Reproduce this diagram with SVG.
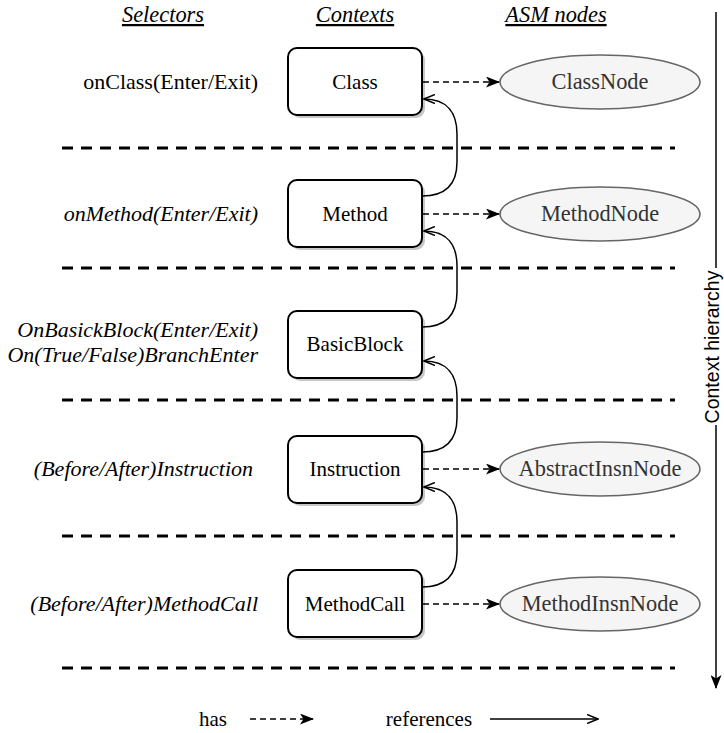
<svg xmlns="http://www.w3.org/2000/svg" width="724" height="733" viewBox="0 0 724 733">
<style>
.hdr{font-family:"Liberation Serif",serif;font-size:22.4px;font-style:italic;text-decoration:underline;text-anchor:middle;fill:#000}
.sel{font-family:"Liberation Serif",serif;font-size:22px;text-anchor:end;fill:#000}
.it{font-style:italic}
.box{fill:#fff;stroke:#000;stroke-width:2}
.shadow{fill:#000;opacity:0.22}
.btxt{font-family:"Liberation Serif",serif;font-size:21px;text-anchor:middle;fill:#000}
.ell{fill:#f5f5f5;stroke:#666;stroke-width:1.6}
.etxt{font-family:"Liberation Serif",serif;font-size:22.4px;text-anchor:middle;fill:#333}
.sep{stroke:#000;stroke-width:3;stroke-dasharray:11 8;fill:none}
.has{stroke:#000;stroke-width:1.5;stroke-dasharray:6 4;fill:none;marker-end:url(#filled)}
.ref{stroke:#000;stroke-width:1.5;fill:none;marker-end:url(#open)}
.side{font-family:"Liberation Sans",sans-serif;font-size:19.5px;text-anchor:middle;fill:#000}
</style>
<defs>
<marker id="filled" viewBox="0 0 14 11" refX="13" refY="5.5" markerWidth="14" markerHeight="11" markerUnits="userSpaceOnUse" orient="auto">
<path d="M0,0 L14,5.5 L0,11 L3.5,5.5 Z" fill="#000"/>
</marker>
<marker id="open" viewBox="0 0 12 10" refX="11" refY="5" markerWidth="12" markerHeight="10" markerUnits="userSpaceOnUse" orient="auto">
<path d="M0,0.5 L11,5 L0,9.5" fill="none" stroke="#000" stroke-width="1.5"/>
</marker>
</defs>

<g id="headers">
<text class="hdr" x="163" y="22">Selectors</text>
<text class="hdr" x="355" y="22">Contexts</text>
<text class="hdr" x="556" y="22">ASM nodes</text>
</g>

<g id="separators">
<line class="sep" x1="62" y1="148" x2="675" y2="148"/>
<line class="sep" x1="62" y1="268" x2="675" y2="268"/>
<line class="sep" x1="62" y1="400" x2="675" y2="400"/>
<line class="sep" x1="62" y1="536" x2="675" y2="536"/>
<line class="sep" x1="62" y1="668" x2="675" y2="668"/>
</g>

<g id="selectors">
<text class="sel" x="258" y="89">onClass(Enter/Exit)</text>
<text class="sel it" x="258" y="221">onMethod(Enter/Exit)</text>
<text class="sel it" x="258" y="337">OnBasickBlock(Enter/Exit)</text>
<text class="sel it" x="258" y="362">On(True/False)BranchEnter</text>
<text class="sel it" x="253" y="476">(Before/After)Instruction</text>
<text class="sel it" x="258" y="611">(Before/After)MethodCall</text>
</g>

<g id="ctx-class">
<rect class="shadow" x="291" y="51" width="134" height="67" rx="9"/>
<rect class="box" x="288" y="48" width="134" height="67" rx="9"/>
<text class="btxt" x="355" y="89">Class</text>
</g>
<g id="ctx-method">
<rect class="shadow" x="291" y="183" width="134" height="67" rx="9"/>
<rect class="box" x="288" y="180" width="134" height="67" rx="9"/>
<text class="btxt" x="355" y="221">Method</text>
</g>
<g id="ctx-basicblock">
<rect class="shadow" x="291" y="314" width="134" height="67" rx="9"/>
<rect class="box" x="288" y="311" width="134" height="67" rx="9"/>
<text class="btxt" x="355" y="351">BasicBlock</text>
</g>
<g id="ctx-instruction">
<rect class="shadow" x="291" y="439" width="134" height="67" rx="9"/>
<rect class="box" x="288" y="436" width="134" height="67" rx="9"/>
<text class="btxt" x="355" y="476">Instruction</text>
</g>
<g id="ctx-methodcall">
<rect class="shadow" x="291" y="573" width="134" height="67" rx="9"/>
<rect class="box" x="288" y="570" width="134" height="67" rx="9"/>
<text class="btxt" x="355" y="611">MethodCall</text>
</g>

<g id="asm-classnode">
<ellipse class="ell" cx="600" cy="82" rx="100" ry="27"/>
<text class="etxt" x="600" y="89">ClassNode</text>
</g>
<g id="asm-methodnode">
<ellipse class="ell" cx="600" cy="214" rx="100" ry="27"/>
<text class="etxt" x="600" y="221">MethodNode</text>
</g>
<g id="asm-abstractinsnnode">
<ellipse class="ell" cx="600" cy="469" rx="100" ry="27"/>
<text class="etxt" x="600" y="476">AbstractInsnNode</text>
</g>
<g id="asm-methodinsnnode">
<ellipse class="ell" cx="600" cy="604" rx="100" ry="27"/>
<text class="etxt" x="600" y="611">MethodInsnNode</text>
</g>

<g id="connectors">
<line class="has" x1="423" y1="82" x2="499" y2="82"/>
<line class="has" x1="423" y1="214" x2="499" y2="214"/>
<line class="has" x1="423" y1="469" x2="499" y2="469"/>
<line class="has" x1="423" y1="604" x2="499" y2="604"/>
<path class="ref" d="M422,196 C448,196 457,182 457,162 L457,134 C457,114 448,99 424,99"/>
<path class="ref" d="M422,327 C448,327 457,312 457,292 L457,266 C457,246 448,231 424,231"/>
<path class="ref" d="M422,452 C448,452 457,438 457,418 L457,396 C457,376 448,361 424,361"/>
<path class="ref" d="M422,587 C448,587 457,572 457,552 L457,522 C457,502 448,487 424,487"/>
</g>

<g id="hierarchy">
<line x1="716" y1="12" x2="716" y2="268" stroke="#000" stroke-width="1.5"/>
<line x1="716" y1="425" x2="716" y2="688" stroke="#000" stroke-width="1.5" marker-end="url(#filled)"/>
<text class="side" transform="translate(715,347) rotate(-90)" y="4">Context hierarchy</text>
</g>

<g id="legend">
<text class="btxt" x="213" y="726">has</text>
<line class="has" x1="250" y1="719" x2="313" y2="719"/>
<text class="btxt" x="429" y="726">references</text>
<line class="ref" x1="490" y1="719" x2="598" y2="719"/>
</g>
</svg>
